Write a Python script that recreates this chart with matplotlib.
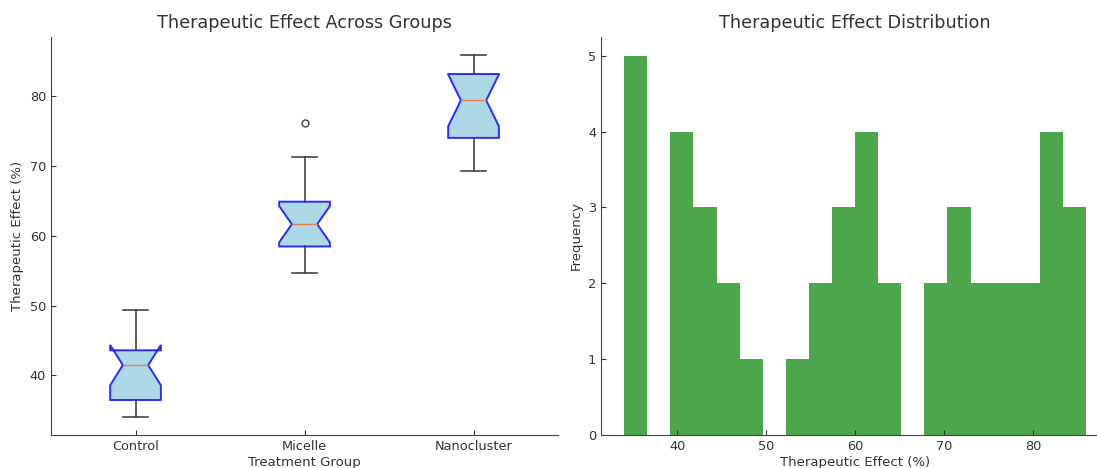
import matplotlib
matplotlib.use("Agg")
from matplotlib import pyplot as plt

# values (15 per group)
groups = ["Control", "Micelle", "Nanocluster"]
control = [34.05, 35.2, 35.9, 36.4, 36.55, 39.8, 40.6, 41.48, 41.7, 42.5,
           43.3, 43.9, 45.1, 46.3, 49.33]
micelle = [54.62, 55.6, 56.9, 58.2, 58.76, 59.4, 60.8, 61.67, 62.0, 62.4,
           64.7, 65.1, 69.0, 71.33, 76.24]
nanocluster = [69.33, 70.9, 72.1, 73.6, 74.5, 76.8, 78.9, 79.43, 81.2, 82.0,
               83.1, 83.3, 84.2, 85.1, 85.95]
n_bins = 20

text_color = "#333333"
plt.rcParams.update({
    "font.family": "DejaVu Sans",
    "text.color": text_color,
    "axes.labelcolor": text_color,
    "xtick.color": text_color,
    "ytick.color": text_color,
    "axes.edgecolor": "#444444",
    "xtick.direction": "in",
    "ytick.direction": "in",
    "xtick.labelsize": 9.3,
    "ytick.labelsize": 9.3,
    "axes.labelsize": 9.5,
    "axes.titlesize": 12.7,
})

fig = plt.figure(figsize=(10.97, 4.68), dpi=100)
ax1 = fig.add_axes([0.0465, 0.0705, 0.4622, 0.851])
ax2 = fig.add_axes([0.5479, 0.0705, 0.4631, 0.851])

ax1.boxplot([control, micelle, nanocluster], notch=True, patch_artist=True,
            tick_labels=groups,
            boxprops=dict(facecolor="lightblue", edgecolor="#2a2aff", linewidth=1.4),
            medianprops=dict(color="#e8804a", linewidth=1.0),
            whiskerprops=dict(color="#444444", linewidth=1.2),
            capprops=dict(color="#444444", linewidth=1.2),
            flierprops=dict(marker="o", markerfacecolor="none",
                            markeredgecolor="#444444", markersize=5))
ax1.set_title("Therapeutic Effect Across Groups")
ax1.set_xlabel("Treatment Group", labelpad=2)
ax1.set_ylabel("Therapeutic Effect (%)")

all_values = control + micelle + nanocluster
ax2.hist(all_values, bins=n_bins, color="green", alpha=0.7)
ax2.set_title("Therapeutic Effect Distribution")
ax2.set_xlabel("Therapeutic Effect (%)", labelpad=2)
ax2.set_ylabel("Frequency")

for ax in (ax1, ax2):
    ax.spines["top"].set_visible(False)
    ax.spines["right"].set_visible(False)

fig.savefig("out.png", dpi=100)
plt.close(fig)
